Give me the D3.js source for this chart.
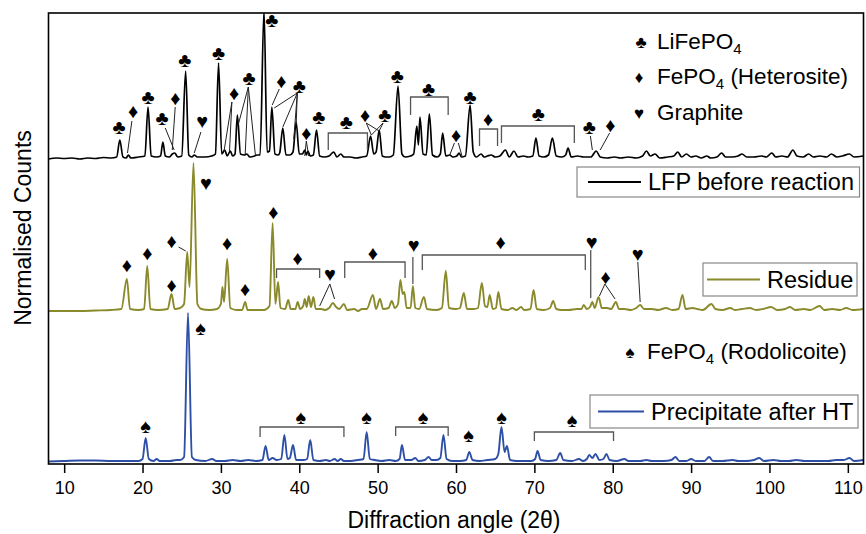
<!DOCTYPE html>
<html><head><meta charset="utf-8">
<script src="https://cdn.jsdelivr.net/npm/d3@7/dist/d3.min.js"></script>
<style>
html,body{margin:0;padding:0;background:#fff;}
svg{display:block;font-family:"Liberation Sans",Arial,Helvetica,sans-serif;}
</style></head>
<body><svg id="chart" width="866" height="534"></svg>
<script>
// ---------------- DATA ----------------
const xTicks = [10,20,30,40,50,60,70,80,90,100,110];
const seriesNames = ["LFP before reaction","Residue","Precipitate after HT"];
const seriesColors = ["#000000","#8a8a2c","#2d4fa6"];
const seriesOffsets = [304,152,2];

// [2theta, normalised counts above the pattern's baseline]
const lfp = [
[8,1],[9,2],[10,1.5],[11,2],[12,1],[13,2],[14,1.5],[15,2.5],[16,2],[16.7,3],
[17.1,20],[17.5,3],[17.9,2],[18.2,5],[18.5,2],[19.5,3],[20.3,4],
[20.7,53],[21.1,4],[21.8,3],[22.3,4],[22.6,18],[22.9,4],[23.4,3],[23.8,6],[24.1,7],[24.5,3],[25.0,4],
[25.5,89],[25.9,5],[26.3,3],[26.6,5],[27,3],[28,3],[28.8,4],[29.3,6],
[29.7,97],[30.1,6],[30.5,10],[30.8,4],[31.2,9],[31.5,4],[31.8,6],
[32.1,45],[32.5,6],[33.0,5],[33.3,6],[33.7,3],[34.3,4],[34.6,5],[35.0,5],
[35.5,150],[35.9,8],[36.2,9],
[36.5,53],[36.9,6],[37.3,5],[37.5,7],
[37.9,32],[38.3,5],[38.8,5],[39.2,8],
[39.6,38],[40.0,6],[40.4,6],[40.7,10],[40.9,5],[41.1,9],[41.4,4],[41.8,5],
[42.2,30],[42.6,4],[43.2,3],[43.8,4],[44.4,8],[44.8,3],[45.3,6],[45.7,3],[46.5,3],[47.2,2],[48.0,3],[48.6,4],
[49.1,24],[49.5,6],[49.8,8],[50.2,30],[50.6,4],[51.0,3],[51.5,3],[52.0,5],
[52.6,74],[53.1,6],[53.5,3],[54.2,4],[54.6,6],
[55.0,34],[55.2,15],[55.4,43],[55.8,6],[56.2,5],
[56.6,46],[57.0,5],[57.6,3],[58.0,6],
[58.3,27],[58.7,4],[59.2,5],[59.6,3],[60.1,4],[60.4,7],[60.7,3],[61.2,4],
[61.8,55],[62.2,8],[62.6,3],[63.2,6],[63.6,3],[64.0,4],[64.5,5],[65.0,3],[65.6,4],
[66.3,10],[66.8,3],[67.4,9],[67.9,3],[68.6,4],[69.2,3],[69.8,4],
[70.2,22],[70.6,4],[71.2,3],[71.8,5],
[72.3,22],[72.8,4],[73.5,3],[74.0,5],[74.3,12],[74.7,3],[75.5,4],[76.3,3],[77.2,3],
[77.9,9],[78.4,3],[79.3,2],[80.2,3],[81,2],[82,3],[83,2],[83.8,4],[84.3,9],[84.8,4],[85.4,6],[86,2],[87,3],[87.8,4],[88.3,8],[88.8,3],[89.4,6],[90,3],[90.6,4],[91.3,2],[92,4],[92.5,2],[93.3,3],[93.9,7],[94.4,3],[95.2,3],[96,4],[96.5,6],[97.1,3],[98,3],[99,4],[99.6,3],[100.3,7],[100.8,3],[101.6,4],[102.3,3],[103,10],[103.5,4],[104.3,3],[105,6],[105.6,3],[106.4,4],[107.3,3],[107.9,6],[108.6,3],[109.3,4],[110.2,6],[110.8,3],[112,4]
];
const residue = [
[8,1],[10,1],[12,1],[14,1.5],[16,2],[17.3,3],[18.0,33],[18.4,3],[19.5,2],[20.2,3],[20.6,46],[21.0,3],[22,2],[23.2,3],[23.7,18],[24.1,3],[24.8,4],[25.3,8],[25.7,60],[26.0,25],[26.5,149],[27.0,8],[27.5,3],[28.5,2],[29.5,3],[30.0,8],[30.2,25],[30.4,10],[30.8,53],[31.2,4],[32,2],[32.7,2],[33.1,10],[33.4,2],[34.5,2],[35.5,2],[36.2,6],[36.6,89],[36.95,8],[37.3,30],[37.6,4],[38.2,3],[38.6,12],[38.9,3],[39.5,3],[39.8,10],[40.1,3],[40.5,6],[40.7,13],[40.95,5],[41.2,16],[41.5,5],[41.8,15],[42.1,3],[42.8,3],[43.3,2],[43.8,4],[44.3,9],[44.7,5],[45.1,3],[45.7,8],[46.1,2],[47,3],[47.5,1],[48,3],[48.6,3],[49.4,17],[49.8,3],[50.3,13],[50.7,3],[51.4,4],[51.8,11],[52.2,4],[52.6,8],[52.9,32],[53.2,18],[53.4,20],[53.7,4],[54.2,4],[54.5,26],[54.8,4],[55.3,3],[55.9,15],[56.3,3],[57.5,2],[58.2,4],[58.7,41],[59.1,4],[60.0,3],[60.5,4],[61.0,19],[61.4,3],[62.3,3],[62.8,4],[63.3,29],[63.7,6],[64.0,5],[64.3,17],[64.7,3],[65.1,4],[65.4,20],[65.8,3],[66.6,2],[67.2,4],[67.7,2],[68.3,5],[68.7,2],[69.5,3],[69.9,22],[70.3,3],[71.2,2],[72.0,4],[72.4,11],[72.8,3],[73.5,2],[74.4,2],[75.4,3],[76.0,3],[76.3,7],[76.7,3],[77.1,5],[77.4,10],[77.7,4],[78.2,15],[78.6,4],[79.3,4],[79.8,3],[80.4,10],[80.8,3],[81.5,3],[82.3,2],[83,4],[83.5,7],[84,3],[85,3],[85.8,2],[86.8,4],[87.6,2],[88.4,3],[88.9,17],[89.3,3],[90.2,4],[90.8,3],[91.5,2],[92.6,8],[93.1,3],[94,2],[95,4],[95.6,2],[96.5,3],[97.5,4],[98.3,2],[99.2,3],[100.2,5],[101,2],[102,3],[102.6,5],[103.3,2],[104.4,3],[105.2,2],[106.4,6],[107,2],[108,3],[109,2],[109.8,4],[110.6,2],[112,3]
];
const precipitate = [
[8,0.5],[10,1],[12,1.5],[14,1.5],[16,1],[18,1],[19.5,1],[20.0,3],[20.4,24],[20.8,3],[21.4,1],[21.8,3],[22.2,1],[23.5,1],[24.3,2],[24.8,2],[25.3,5],[25.8,149],[26.3,5],[26.8,2],[28,1],[28.9,3],[29.4,1],[30.5,1],[31.5,2],[32.5,1],[33.5,2],[34.5,1],[35.3,2],[35.7,16],[36.1,2],[36.6,4],[37.1,2],[37.7,3],[38.1,27],[38.5,3],[38.8,4],[39.2,17],[39.6,2],[40.6,2],[41.0,3],[41.4,22],[41.8,2],[42.6,1],[43.4,2],[43.9,1],[44.5,3],[44.9,1],[45.3,3],[45.7,1],[46.5,1],[47.5,2],[48.2,3],[48.6,30],[49.0,3],[49.6,2],[50.5,1],[51.5,2],[52.3,1],[52.8,3],[53.1,17],[53.5,2],[54.3,2],[54.8,4],[55.2,1],[56.0,2],[56.5,5],[56.9,2],[57.5,2],[58.0,4],[58.4,27],[58.8,3],[59.5,1],[60.5,1],[61.3,2],[61.7,10],[62.1,2],[63,1],[64,2],[65,3],[65.4,8],[65.8,35],[66.2,10],[66.5,16],[66.9,2],[67.8,1],[68.8,1],[69.6,1],[70.1,3],[70.4,11],[70.8,2],[71.8,1],[72.8,2],[73.3,9],[73.7,2],[74.8,1],[75.7,3],[76.2,1],[76.7,3],[77.0,7],[77.4,4],[77.8,8],[78.3,2],[78.8,3],[79.2,8],[79.6,2],[80.5,1],[81.5,3],[82,1],[83.5,1],[84.3,2],[85,1],[86.5,1],[87.5,2],[88.0,5],[88.5,1],[89.4,1],[90,3],[90.6,1],[91.7,1],[92.3,5],[92.8,1],[94,1],[95.3,2],[96,1],[97,1],[98,2],[98.7,4],[99.3,1],[100.5,2],[101.5,1],[102.5,1],[103.4,2],[104.5,1],[106,1],[107.5,1],[108.5,2],[109.5,2],[110.2,4],[110.8,1],[112,2]
];

// phase markers: [symbol, 2theta, height above pattern baseline]
const lfpMarks = [["♣",17.0,33],["♦",18.8,49],["♣",20.7,63],["♣",22.5,42],["♦",24.2,62],["♣",25.4,100],["♥",27.6,39],["♣",29.7,107],["♦",31.7,67],["♣",33.6,82],["♣",36.5,140],["♦",37.7,79],["♣",40.0,74],["♦",40.9,27],["♣",42.5,43],["♣",46.0,38],["♦",48.4,45],["♣",50.9,45],["♣",52.5,84],["♣",56.5,71],["♦",60.0,25],["♣",61.8,63],["♦",64.1,41],["♣",70.5,46],["♣",77.0,33],["♦",79.7,35]];
// leader lines: [2theta1, h1, 2theta2, h2]
const lfpLeaders = [[18.64,39,18.08,7],[22.9,32,24.04,10],[24.17,53,23.79,10],[27.45,28,26.6,7],[31.4,58,30.4,9],[31.4,58,31.1,9],[33.5,73,32.2,35],[33.5,73,33.1,6],[33.5,73,34.4,5],[37.45,71,36.55,55],[39.75,67,36.8,52],[39.75,67,37.9,33],[39.75,67,39.3,21],[39.75,67,39.6,35],[40.9,19,40.7,4],[40.9,19,41.2,4],[48.55,37,49.2,25],[48.55,37,50.2,29],[50.7,37,49.2,25],[50.7,37,50.2,29],[59.8,17,59.2,5],[60.3,17,60.8,3],[77.15,24,77.4,10],[79.6,27,78.4,10]];
// brackets: [2theta1, 2theta2, top height, end height]
const lfpBrackets = [[43.7,48.7,27,10],[54.2,59.0,63,45],[63.0,65.3,31,14],[65.8,75.1,34,17]];

const resMarks = [["♦",18.0,47],["♦",20.6,59],["♦",23.7,71],["♦",23.7,27],["♥",28.1,129],["♦",30.8,69],["♦",33.1,23],["♦",36.7,100],["♦",39.8,54],["♥",43.9,38],["♦",49.4,59],["♥",54.6,67],["♦",65.7,70],["♥",77.3,70],["♦",79.1,35],["♥",83.2,58]];
const resLeaders = [[24.6,65,25.5,61],[43.9,28,42.6,6],[43.9,28,44.5,13],[54.5,55,54.5,28],[77.2,62,77.2,14],[79.0,28,78.3,16],[79.0,28,80.3,13],[83.2,50,83.5,10]];
const resBrackets = [[37.1,42.6,43,34],[45.8,53.5,50,34],[55.7,76.5,57,42]];

const pptMarks = [["♠",20.4,36],["♠",27.4,134],["♠",40.2,45],["♠",48.6,45],["♠",55.8,45],["♠",61.6,27],["♠",65.8,45],["♠",74.8,42]];
const pptLeaders = [];
const pptBrackets = [[35.0,45.7,35,25],[52.3,59.0,35,26],[70.0,80.1,30,21]];

// phase key labels
const phaseSymbols = ["♣","♦","♥","♠"];
const phaseNames = ["LiFePO","FePO","Graphite","FePO"];
const phaseSubs = ["4","4","","4"];
const phaseSuffix = [""," (Heterosite)",""," (Rodolicoite)"];

// ---------------- CHART ----------------
const plot = {left:48.5, right:863.5, top:13, bottom:464};
const svg = d3.select("#chart");
const x = d3.scaleLinear().domain([8,112]).range([plot.left, plot.right]);
const y = d3.scaleLinear().domain([0,451]).range([plot.bottom, plot.top]);

svg.append("defs").append("clipPath").attr("id","clip")
  .append("rect").attr("x",plot.left).attr("y",plot.top)
  .attr("width",plot.right-plot.left).attr("height",plot.bottom-plot.top);

const allSeries = [lfp, residue, precipitate];
const line = d3.line().curve(d3.curveMonotoneX);
const g = svg.append("g").attr("clip-path","url(#clip)");
allSeries.forEach((s,i)=>{
  g.append("path")
    .attr("d", line(s.map(d=>[x(d[0]), y(d[1]+seriesOffsets[i])])))
    .attr("fill","none").attr("stroke",seriesColors[i])
    .attr("stroke-width", i===0?1.7:1.9).attr("stroke-linejoin","round");
});

// annotations
function annotate(off, marks, leaders, brackets){
  const a = svg.append("g");
  a.selectAll("path.br").data(brackets).join("path").attr("class","br")
    .attr("d", d=>`M${x(d[0])},${y(off+d[3])}V${y(off+d[2])}H${x(d[1])}V${y(off+d[3])}`)
    .attr("fill","none").attr("stroke","#555").attr("stroke-width",1.3);
  a.selectAll("line").data(leaders).join("line")
    .attr("x1",d=>x(d[0])).attr("y1",d=>y(off+d[1]))
    .attr("x2",d=>x(d[2])).attr("y2",d=>y(off+d[3]))
    .attr("stroke","#222").attr("stroke-width",1);
  a.selectAll("text").data(marks).join("text")
    .attr("x",d=>x(d[1])).attr("y",d=>y(off+d[2]))
    .attr("text-anchor","middle").attr("dominant-baseline","central")
    .attr("font-size",20).attr("fill","#000").text(d=>d[0]);
}
annotate(seriesOffsets[0], lfpMarks, lfpLeaders, lfpBrackets);
annotate(seriesOffsets[1], resMarks, resLeaders, resBrackets);
annotate(seriesOffsets[2], pptMarks, pptLeaders, pptBrackets);

// frame
svg.append("rect").attr("x",plot.left).attr("y",plot.top)
  .attr("width",plot.right-plot.left).attr("height",plot.bottom-plot.top)
  .attr("fill","none").attr("stroke","#000").attr("stroke-width",1.6);

// x axis
const xAxis = svg.append("g").attr("transform",`translate(0,${plot.bottom})`)
  .call(d3.axisBottom(x).tickValues(xTicks).tickSize(9).tickPadding(8));
xAxis.select(".domain").remove();
xAxis.selectAll(".tick line").attr("stroke","#000").attr("stroke-width",1.5);
xAxis.selectAll(".tick text").attr("font-size",18).attr("fill","#000")
  .attr("font-family","'Liberation Sans',Arial,sans-serif");

// axis titles
svg.append("text").attr("x",454).attr("y",528).attr("text-anchor","middle")
  .attr("font-size",23).text("Diffraction angle (2θ)");
svg.append("text").attr("transform","translate(31,228) rotate(-90)")
  .attr("text-anchor","middle").attr("font-size",23).text("Normalised Counts");

// phase key
const keyPos = [[641,42,657,49],[639,77,657,84],[639,113,657,120],[630,352,647,359]];
phaseSymbols.forEach((s,i)=>{
  const p = keyPos[i];
  svg.append("text").attr("x",p[0]).attr("y",p[1]).attr("text-anchor","middle")
    .attr("dominant-baseline","central").attr("font-size",17).text(s);
  const t = svg.append("text").attr("x",p[2]).attr("y",p[3]).attr("font-size",22.5);
  t.append("tspan").text(phaseNames[i]);
  if (phaseSubs[i]) t.append("tspan").attr("font-size",15).attr("dy",5).text(phaseSubs[i]);
  if (phaseSuffix[i]) t.append("tspan").attr("dy",phaseSubs[i]?-5:0).text(phaseSuffix[i]);
});

// series legends
const legBoxes = [[577,167,859.5,197],[703,263,857,296],[590,395,858,428]];
const legLines = [[588,641],[707,760],[598,644]];
legBoxes.forEach((b,i)=>{
  svg.append("rect").attr("x",b[0]).attr("y",b[1]).attr("width",b[2]-b[0]).attr("height",b[3]-b[1])
    .attr("fill","#fff").attr("stroke","#888").attr("stroke-width",1.2);
  const cy = (b[1]+b[3])/2;
  svg.append("line").attr("x1",legLines[i][0]).attr("x2",legLines[i][1]).attr("y1",cy).attr("y2",cy)
    .attr("stroke",seriesColors[i]).attr("stroke-width",1.8);
  svg.append("text").attr("x",legLines[i][1]+7).attr("y",cy+8.3).attr("font-size",23.5).text(seriesNames[i]);
});
</script>
</body></html>
